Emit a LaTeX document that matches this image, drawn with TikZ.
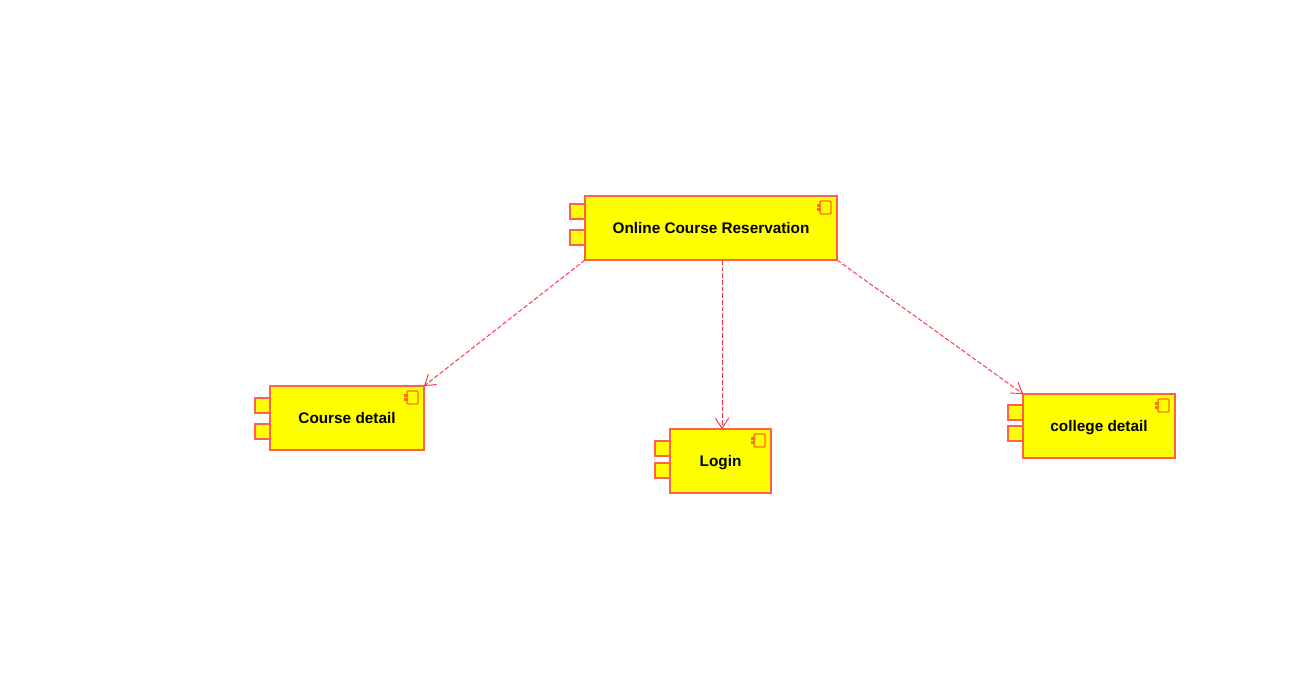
\documentclass[tikz,border=0pt]{standalone}
\usepackage{fontspec}
\setmainfont{Liberation Sans}
\usetikzlibrary{arrows.meta}
\definecolor{compline}{HTML}{FF6048}
\definecolor{compfill}{HTML}{FFFF00}
\definecolor{iconline}{HTML}{FF7010}
\definecolor{depline}{HTML}{FF3040}
\tikzset{
	compbox/.style={draw=compline, fill=compfill, line width=1.2pt, inner sep=0pt, outer sep=0pt, text depth=0pt, font=\bfseries\fontsize{11.5}{13}\selectfont},
	portbox/.style={draw=compline, fill=compfill, line width=1.2pt, inner sep=0pt, outer sep=0pt, minimum width=11.25pt, minimum height=11.25pt},
	iconbox/.style={draw=iconline, fill=compfill, line width=1.1pt, rounded corners=0.8pt, inner sep=0pt, outer sep=0pt, minimum width=8.25pt, minimum height=9.75pt},
	icontab/.style={draw=iconline, fill=iconline, inner sep=0pt, outer sep=0pt, line width=0.4pt, minimum width=2.2pt, minimum height=1.6pt},
	depline/.style={draw=depline, line width=0.7pt, dash pattern=on 3.4pt off 1.6pt, -{Straight Barb[length=7.5pt,width=10pt,line width=0.7pt]}}
}
% name, centre, width, port offsets from the top, text
\def\component#1(#2,#3)(#4)(#5:#6)#7{
	\node[portbox, anchor=north east] (#1porta) at (#2-#4/2,#3-32+#5) {};
	\node[portbox, anchor=north east] (#1portb) at (#2-#4/2,#3-32+#6) {};
	\node[compbox, minimum width=#4*0.75pt, minimum height=48pt] (#1) at (#2,#3) {#7};
	\node[iconbox, anchor=north east] (#1icon) at ([xshift=-4.5pt,yshift=-3.75pt]#1.north east) {};
	\node[icontab] (#1taba) at ([xshift=-0.6pt,yshift=1.4pt]#1icon.west) {};
	\node[icontab] (#1tabb) at ([xshift=-0.6pt,yshift=-1.4pt]#1icon.west) {};
}

\begin{document}
\begin{tikzpicture}[x=0.75pt, y=-0.75pt]
	%%%%% START %%%%%
	\useasboundingbox (0,0) rectangle (1306,685);
	
	\component{main}(711,228)(252)(8:34){Online Course Reservation}
	\component{course}(347,418)(154)(12:38){Course detail}
	\component{login}(720.5,461)(101)(12:34){Login}
	\component{college}(1099,426)(152)(11:32){college detail}
	
	\draw[depline] (main.south west) -- (course.north east);
	\draw[depline] ([xshift=1.1pt]main.south -| login.north) -- ([xshift=1.1pt]login.north);
	\draw[depline] (main.south east) -- (college.north west);
	
	%%%%% END %%%%%
\end{tikzpicture}
\end{document}
